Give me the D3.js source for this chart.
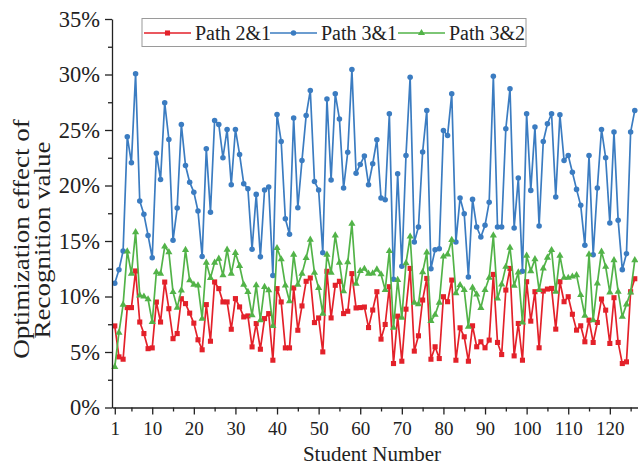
<!DOCTYPE html>
<html>
<head>
<meta charset="utf-8">
<script src="https://cdn.jsdelivr.net/npm/d3@7"></script>
<style>
  html, body { margin: 0; padding: 0; background: #fff; }
  svg { display: block; }
  text { font-family: "Liberation Serif", "Times New Roman", serif; fill: #222; }
</style>
</head>
<body>
<svg id="chart" width="638" height="466"></svg>
<script>
// Optimization effect (%) per student for each pair of paths
const path21 = [7.35, 4.56, 4.35, 9.0, 9.0, 12.3, 7.7, 6.66, 5.3, 5.37, 9.5, 7.7, 11.3, 8.9, 6.2, 6.66, 9.8, 9.36, 8.5, 7.6, 6.1, 5.2,
  9.27, 5.97, 11.31, 10.71, 9.51, 9.51, 7.05, 9.81, 9.06, 8.16, 8.25, 5.46, 7.56, 5.25, 8.01, 8.46, 4.26,
  10.71, 9.51, 5.37, 5.37, 10.77, 6.96, 9.15, 11.37, 11.67, 7.65, 8.07, 5.01, 12.27, 8.07, 11.01, 11.37, 8.46, 8.67, 12.06,
  8.97, 9.0, 9.05, 7.2, 8.78, 10.43, 6.16, 7.48, 10.88, 3.96, 8.23, 4.17, 8.86, 12.53, 5.08, 6.46, 9.68, 11.63, 4.35, 5.47, 4.41, 9.98, 9.53, 11.48,
  4.26, 7.18, 6.37, 4.17, 7.36, 5.47, 5.92, 5.38, 6.07, 11.99, 5.86, 4.77, 10.58, 12.53, 4.65, 7.57, 4.26, 11.33, 7.78, 10.43, 5.38, 10.49,
  10.67, 10.73, 7.06, 11.33, 9.53, 9.98, 8.4, 6.97, 7.36, 5.92, 7.87, 5.86, 7.66, 9.77, 8.77, 5.77, 9.89, 5.86, 3.96, 4.11, 10.43, 11.6];

const path31 = [11.2, 12.4, 14.1, 24.4, 22.05, 30.06, 18.6, 17.4, 15.5, 13.5, 22.9, 20.55, 27.45, 24.15, 15.06, 17.97, 25.5, 21.8, 20.3, 19.4, 17.7, 13.6,
  23.3, 17.6, 25.86, 25.5, 22.5, 25.05, 20.07, 25.05, 22.8, 20.16, 19.7, 14.26, 19.2, 13.57, 19.6, 19.86, 11.9,
  26.4, 23.97, 17.0, 15.6, 26.07, 18.0, 22.26, 26.3, 28.56, 20.37, 19.6, 13.95, 27.8, 20.5, 28.26, 26.0, 19.77, 23.0, 30.45,
  21.1, 21.9, 22.65, 20.07, 21.96, 24.12, 18.87, 18.72, 26.46, 11.55, 21.06, 12.72, 22.71, 29.76, 14.91, 16.26, 23.01, 26.76, 12.51, 14.22, 14.31, 24.96, 24.51, 28.26,
  14.9, 18.87, 17.46, 11.76, 18.75, 16.26, 15.36, 16.41, 18.5, 29.85, 16.26, 16.26, 25.11, 28.71, 16.17, 20.67, 12.27, 26.46, 19.56, 25.26, 16.35, 23.97,
  25.56, 26.46, 18.96, 26.37, 22.26, 22.71, 21.2, 19.65, 18.21, 14.61, 22.71, 13.77, 19.77, 25.05, 22.5, 16.62, 24.81, 16.86, 12.42, 13.86, 24.81, 26.76];

const path32 = [3.66, 6.75, 9.27, 14.07, 12.06, 15.8, 10.1, 10.0, 9.75, 7.7, 12.2, 12.06, 14.5, 14.0, 10.4, 9.0, 10.55, 14.2, 11.46, 11.07, 11.0, 8.0,
  13.05, 11.67, 13.05, 13.41, 11.91, 14.22, 12.06, 13.92, 12.75, 11.07, 10.41, 8.31, 11.01, 7.86, 10.86, 10.56, 7.35,
  14.37, 13.35, 11.0, 9.57, 13.77, 11.07, 12.06, 13.47, 15.12, 12.15, 10.77, 8.46, 13.77, 12.15, 15.5, 13.05, 10.47, 13.1, 16.56,
  11.16, 12.3, 12.5, 12.06, 12.08, 12.44, 12.0, 10.58, 14.1, 7.18, 11.5, 8.1, 13.0, 15.4, 9.45, 9.3, 12.2, 13.97, 7.8, 8.35, 9.45, 13.6, 13.8, 15.1,
  10.3, 11.03, 10.58, 7.27, 10.79, 10.19, 8.98, 10.58, 11.69, 15.5, 9.83, 11.09, 12.68, 14.4, 10.97, 12.17, 7.66, 13.68, 12.29, 13.37, 10.58, 12.53,
  13.5, 14.19, 10.43, 13.68, 11.69, 11.69, 11.8, 11.93, 10.13, 8.26, 13.8, 7.87, 11.18, 14.04, 12.68, 10.37, 13.28, 10.43, 8.17, 9.29, 10.37, 13.28];

const seriesNames = ["Path 2&1", "Path 3&1", "Path 3&2"];
const xTickValues = [1, 10, 20, 30, 40, 50, 60, 70, 80, 90, 100, 110, 120];
const xMinorValues = [5, 15, 25, 35, 45, 55, 65, 75, 85, 95, 105, 115, 125];
const yTickValues = [0, 5, 10, 15, 20, 25, 30, 35];
const yMinorValues = [2.5, 7.5, 12.5, 17.5, 22.5, 27.5, 32.5];

const colors = { "Path 2&1": "#e3212a", "Path 3&1": "#3b7cc1", "Path 3&2": "#52b348" };
const series = [
  { name: seriesNames[0], values: path21, symbol: d3.symbolSquare, size: 26 },
  { name: seriesNames[1], values: path31, symbol: d3.symbolCircle, size: 24 },
  { name: seriesNames[2], values: path32, symbol: d3.symbolTriangle, size: 22 }
];

const svg = d3.select("#chart");
const axisLeftX = 112, axisBottomY = 407.5;

const x = d3.scaleLinear().domain([0.33, 128]).range([axisLeftX, axisLeftX + 127.67 * 4.16]);
const y = d3.scaleLinear().domain([0, 35]).range([axisBottomY, 19]);

svg.append("rect").attr("width", 638).attr("height", 466).attr("fill", "#fff");

// data lines and markers
const line = d3.line().x((d, i) => x(i + 1)).y(d => y(d));
const plot = svg.append("g");
series.forEach(s => {
  plot.append("path")
    .datum(s.values)
    .attr("fill", "none")
    .attr("stroke", colors[s.name])
    .attr("stroke-width", 1.7)
    .attr("stroke-linejoin", "round")
    .attr("d", line);
  plot.selectAll(null)
    .data(s.values)
    .join("path")
    .attr("transform", (d, i) => `translate(${x(i + 1)},${y(d)})`)
    .attr("d", d3.symbol(s.symbol, s.size))
    .attr("fill", colors[s.name]);
});

// axes
function styleAxis(g) {
  g.selectAll("path.domain").attr("stroke", "#222").attr("stroke-width", 1.3);
  g.selectAll(".tick line").attr("stroke", "#222").attr("stroke-width", 1.3);
  g.selectAll(".tick text").attr("fill", "#222").attr("font-family", '"Liberation Serif", serif');
}

const xAxis = svg.append("g").attr("transform", `translate(0,${axisBottomY})`)
  .call(d3.axisBottom(x).tickValues(xTickValues).tickSize(7).tickSizeOuter(0).tickPadding(7).tickFormat(d3.format("d")));
xAxis.call(styleAxis);
xAxis.selectAll(".tick text").attr("font-size", 19);
svg.append("g").attr("transform", `translate(0,${axisBottomY})`)
  .call(d3.axisBottom(x).tickValues(xMinorValues).tickSize(4).tickFormat(""))
  .call(g => g.select(".domain").remove())
  .call(styleAxis);

const yAxis = svg.append("g").attr("transform", `translate(${axisLeftX},0)`)
  .call(d3.axisLeft(y).tickValues(yTickValues).tickSize(7).tickSizeOuter(0).tickPadding(5).tickFormat(d => d + "%"));
yAxis.call(styleAxis);
yAxis.selectAll(".tick text").attr("font-size", 22.5);
svg.append("g").attr("transform", `translate(${axisLeftX},0)`)
  .call(d3.axisLeft(y).tickValues(yMinorValues).tickSize(4).tickFormat(""))
  .call(g => g.select(".domain").remove())
  .call(styleAxis);

// axis titles
svg.append("text")
  .attr("x", 372).attr("y", 461)
  .attr("text-anchor", "middle").attr("font-size", 21)
  .text("Student Number");

// y title: two lines, drawn slightly elongated along the reading direction
const titleStretch = 1.2;
const yTitle = svg.append("text")
  .attr("transform", `rotate(-90) scale(${titleStretch},1)`)
  .attr("text-anchor", "middle").attr("font-size", 22.5);
yTitle.append("tspan").attr("x", -239 / titleStretch).attr("y", 29.5).text("Optimization effect of");
yTitle.append("tspan").attr("x", -240 / titleStretch).attr("y", 50.5).text("Recognition value");

// legend
const legend = svg.append("g");
legend.append("rect")
  .attr("x", 142).attr("y", 18.5).attr("width", 384).attr("height", 28)
  .attr("fill", "#fff").attr("stroke", "#9a9a9a").attr("stroke-width", 1);
const legendX = [144, 270, 398];
series.forEach((s, k) => {
  const g = legend.append("g").attr("transform", `translate(${legendX[k]},33)`);
  g.append("line").attr("x1", 0).attr("x2", 47).attr("stroke", colors[s.name]).attr("stroke-width", 1.7);
  g.append("path").attr("transform", "translate(23.5,0)").attr("d", d3.symbol(s.symbol, s.size)).attr("fill", colors[s.name]);
  g.append("text").attr("x", 51).attr("y", 7).attr("font-size", 20).text(s.name);
});
</script>
</body>
</html>
